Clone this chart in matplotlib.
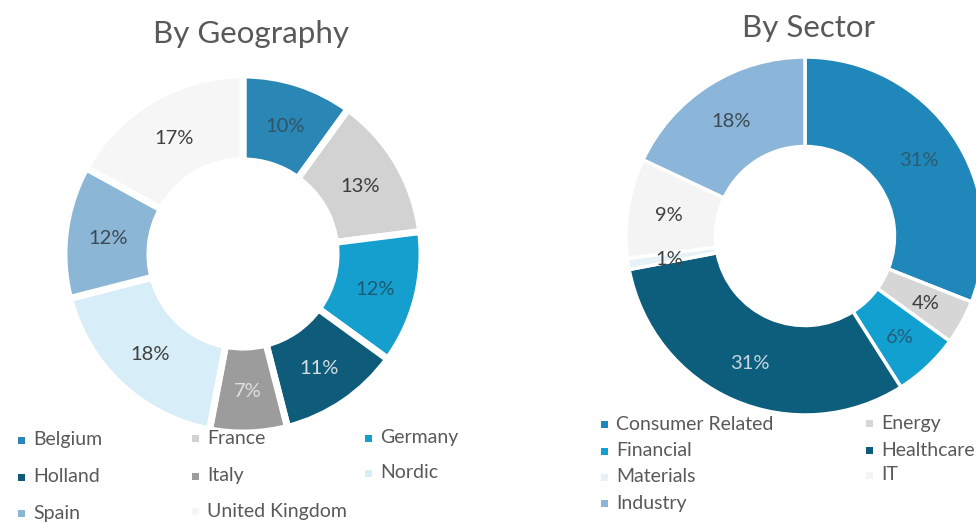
import matplotlib
matplotlib.use("Agg")
import matplotlib.pyplot as plt
from matplotlib.patches import Rectangle

plt.rcParams['font.family'] = ['Lato', 'DejaVu Sans']

# ---- data ----
geo_labels = ["Belgium", "France", "Germany", "Holland", "Italy", "Nordic", "Spain", "United Kingdom"]
geo_values = [10, 13, 12, 11, 7, 18, 12, 17]
geo_colors = ["#2a86b4", "#d2d2d2", "#159fcf", "#0f5c7a", "#9c9c9c", "#d7edf7", "#8cb6d6", "#f6f6f6"]
geo_text_colors = ["#2f5566", "#3c3c3c", "#1d5a72", "#d4dde2", "#e0e0e0", "#404040", "#3c4a55", "#404040"]

sec_labels = ["Consumer Related", "Energy", "Financial", "Healthcare", "Materials", "IT", "Industry"]
sec_values = [31, 4, 6, 31, 1, 9, 18]
sec_colors = ["#1f87b9", "#d6d6d6", "#12a0d0", "#0d5e7d", "#e6f2f8", "#f4f4f4", "#8bb6da"]
sec_text_colors = ["#2d5c72", "#3c3c3c", "#22607a", "#c9d6dc", "#404040", "#404040", "#3c4a55"]

W, H = 976, 523
fig = plt.figure(figsize=(W / 100, H / 100), dpi=100)
fig.patch.set_facecolor("white")


def donut(cx, cy, r, values, colors, tcolors, inner, lw, lab_r):
    ax = fig.add_axes([(cx - r) / W, (H - cy - r) / H, 2 * r / W, 2 * r / H])
    wedges, texts = ax.pie(values, colors=colors, startangle=90, counterclock=False,
                           radius=1, wedgeprops=dict(width=1 - inner, edgecolor="white", linewidth=lw),
                           labels=[f"{v}%" for v in values], labeldistance=lab_r)
    for t, c in zip(texts, tcolors):
        t.set_color(c)
        t.set_fontsize(14.5)
        t.set_ha("center")
        t.set_va("center_baseline")
    ax.set_xlim(-1, 1)
    ax.set_ylim(-1, 1)
    ax.set_aspect("equal")
    ax.axis("off")
    return ax


donut(243, 254, 179, geo_values, geo_colors, geo_text_colors, 0.52, 5, 0.76)
donut(805, 236, 179, sec_values, sec_colors, sec_text_colors, 0.50, 2.5, 0.77)

fig.text(251 / W, 1 - 43 / H, "By Geography", ha="center", va="baseline", fontsize=22.5, color="#595959")
fig.text(808 / W, 1 - 37 / H, "By Sector", ha="center", va="baseline", fontsize=22.5, color="#595959")


def legend_item(x, y, label, color):
    s = 7
    fig.patches.append(Rectangle(((x - s / 2) / W, 1 - (y + s / 2) / H), s / W, s / H,
                                 transform=fig.transFigure, facecolor=color, edgecolor="none"))
    fig.text((x + 12) / W, 1 - y / H, label, ha="left", va="center", fontsize=14, color="#595959")


geo_pos = [(21, 440), (195, 438), (368, 438), (21, 477), (195, 476), (368, 473), (21, 513), (195, 511)]
for (x, y), lab, col in zip(geo_pos, geo_labels, geo_colors):
    legend_item(x, y, lab, col)

sec_pos = [(604, 424), (869, 423), (604, 451), (869, 450), (604, 477), (869, 475), (604, 503)]
for (x, y), lab, col in zip(sec_pos, sec_labels, sec_colors):
    legend_item(x, y, lab, col)

fig.savefig("out.png", dpi=100, facecolor="white")
